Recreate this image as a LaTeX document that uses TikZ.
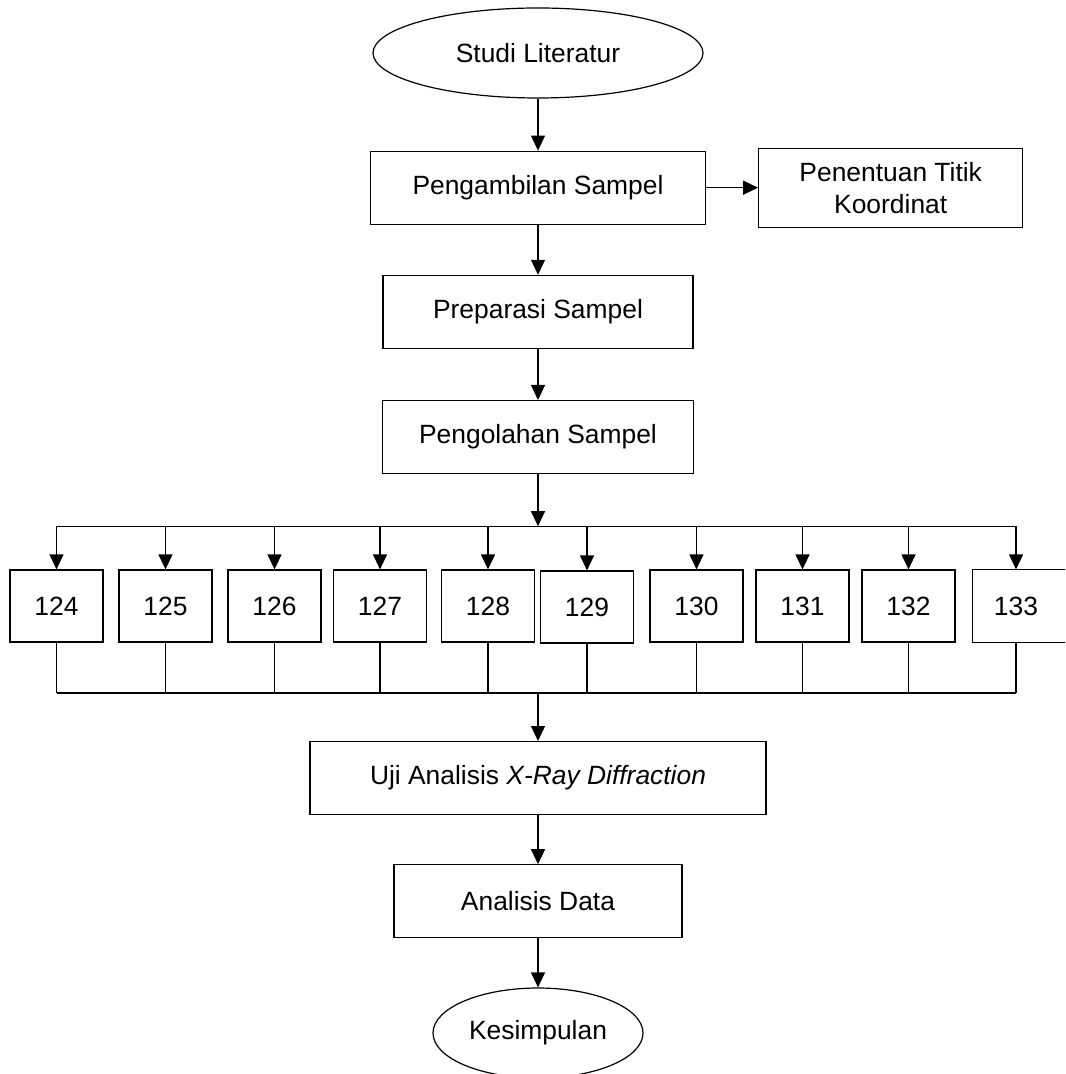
\documentclass[tikz,border=0pt]{standalone}
\usepackage{fontspec}
\setmainfont{Liberation Sans}
\usetikzlibrary{shapes.geometric,positioning,arrows.meta}

\begin{document}
\begin{tikzpicture}[x=0.5pt,y=-0.5pt,line width=0.6pt,
    every node/.style={font={\fontsize{13.2}{16}\selectfont}, text=black},
    stepbox/.style={rectangle, draw=black, fill=white, minimum height=36.5pt, inner sep=2pt, align=center},
    endnode/.style={ellipse, draw=black, fill=white, minimum height=45pt, inner sep=0pt},
    numbox/.style={rectangle, draw=black, fill=white, minimum width=46.5pt, minimum height=36pt, inner sep=0pt},
    arr/.style={-{Triangle[length=7.5pt,width=7pt]}}]
                    \useasboundingbox (0,0) rectangle (1065,1074);
                    \clip (0,0) rectangle (1065,1074);
                    \node (studi) [endnode, minimum width=165pt] at (538,53) {Studi Literatur};
                    \node (ambil) [stepbox, minimum width=167.5pt, below=26pt of studi] {Pengambilan Sampel};
                    \node (titik) [stepbox, minimum width=132pt, minimum height=39.5pt, right=26pt of ambil] {Penentuan Titik\\Koordinat};
                    \node (prep) [stepbox, minimum width=155pt, below=25pt of ambil] {Preparasi Sampel};
                    \node (olah) [stepbox, minimum width=155.5pt, below=25.5pt of prep] {Pengolahan Sampel};
                    \coordinate [below=26pt of olah] (topbus);
                    \coordinate (botbus) at (538,693);
                % the row of sample boxes
                \foreach \lab/\cx/\cy in {124/56.5/606, 125/165.5/606, 126/274.5/606, 127/380/606, 128/488/606,
                                          129/587/607, 130/696.5/606, 131/802.5/606, 132/908.5/606} {
                    \node (b\lab) [numbox] at (\cx,\cy) {\lab};
                }
                % last box runs off the page, no right side
                    \node (b133) [numbox, draw=none, minimum width=43pt] at (1016,606) {133};
                \draw ([xshift=6pt]b133.north east) -- (b133.north west) -- (b133.south west) -- ([xshift=6pt]b133.south east);
                \foreach \lab in {124,...,133} {
                    \draw[arr] (b\lab.north |- topbus) -- (b\lab.north);
                    \draw (b\lab.south) -- (b\lab.south |- botbus);
                }
                \draw (b124.north |- topbus) -- (b133.north |- topbus);
                \draw (b124.south |- botbus) -- (b133.south |- botbus);
                    \node (xrd) [stepbox, minimum width=228pt, below=24pt of botbus] {Uji Analisis \textit{X-Ray Diffraction}};
                    \node (data) [stepbox, minimum width=144pt, below=24.5pt of xrd] {Analisis Data};
                    \node (simpul) [endnode, minimum width=105pt, below=24.5pt of data] {Kesimpulan};
                \draw[arr] (studi) -- (ambil);
                \draw[arr] (ambil) -- (titik);
                \draw[arr] (ambil) -- (prep);
                \draw[arr] (prep) -- (olah);
                \draw[arr] (olah) -- (topbus);
                \draw[arr] (botbus) -- (xrd);
                \draw[arr] (xrd) -- (data);
                \draw[arr] (data) -- (simpul);
            \end{tikzpicture}
\end{document}
